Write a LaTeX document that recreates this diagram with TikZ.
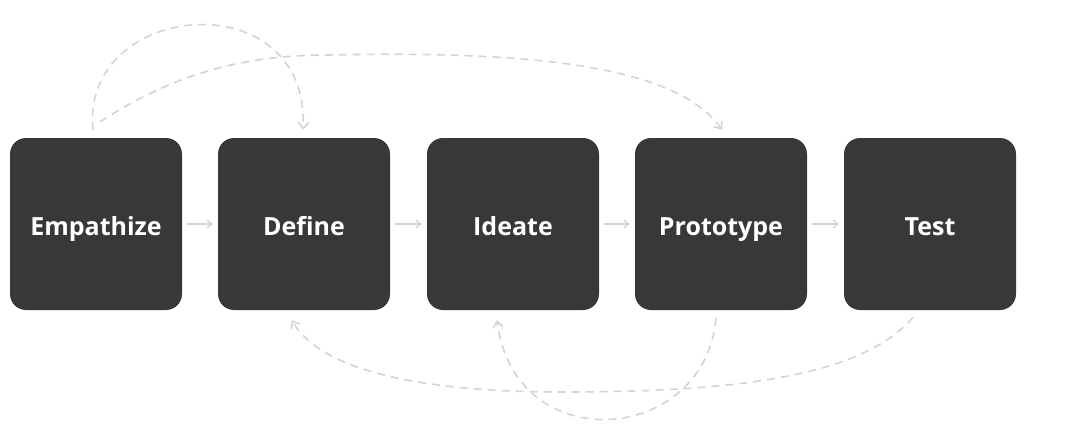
\documentclass[tikz,border=0pt]{standalone}
\usepackage{fontspec}
\setmainfont{Open Sans}
\usetikzlibrary{arrows.meta}
\definecolor{boxfill}{HTML}{36383A}
\definecolor{linkgray}{HTML}{D4D4D4}
\begin{document}
\begin{tikzpicture}[x=1pt,y=-1pt,
  stage/.style={draw=none, fill=boxfill, rounded corners=16pt,
    minimum width=172pt, minimum height=172pt, inner sep=0pt,
    text height=22pt, text depth=0pt,
    text=white, font=\fontsize{25}{28}\selectfont\bfseries},
  flow/.style={draw=linkgray, line width=1.3pt, shorten >=5pt, shorten <=5pt,
    -{Straight Barb[length=5pt,width=8pt]}},
  loop/.style={draw=linkgray, line width=1.6pt, dash pattern=on 8pt off 6pt,
    -{Straight Barb[length=6pt,width=10pt,line width=1.6pt]}}]
\useasboundingbox (0,0) rectangle (1071,437);
\fill[white] (0,0) rectangle (1071,437);

% the five stages
\node[stage] (emp) at (96,224) {Empathize};
\node[stage] (def) at (304,224) {Define};
\node[stage] (ide) at (513,224) {Ideate};
\node[stage] (pro) at (721,224) {Prototype};
\node[stage] (tst) at (930,224) {Test};

% forward flow between neighbours
\draw[flow] (emp) -- (def);
\draw[flow] (def) -- (ide);
\draw[flow] (ide) -- (pro);
\draw[flow] (pro) -- (tst);

% iteration loops above
\draw[loop] ([shift={(-3,-8)}]emp.north) .. controls (80,0) and (310,-20) .. ([shift={(-1,-8)}]def.north);
\draw[loop] ([shift={(4,-16)}]emp.north) .. controls (180,70) and (250,55) .. (330,55)
   .. controls (550,50) and (680,70) .. ([shift={(1,-8)}]pro.north);

% iteration loops below
\draw[loop] ([shift={(-17,7)}]tst.south) .. controls (860,380) and (720,392) .. (560,392)
   .. controls (420,392) and (320,370) .. ([shift={(-12,10)}]def.south);
\draw[loop] ([shift={(-5,8)}]pro.south) .. controls (705,445) and (515,460) .. ([shift={(-16,10)}]ide.south);
\end{tikzpicture}
\end{document}
